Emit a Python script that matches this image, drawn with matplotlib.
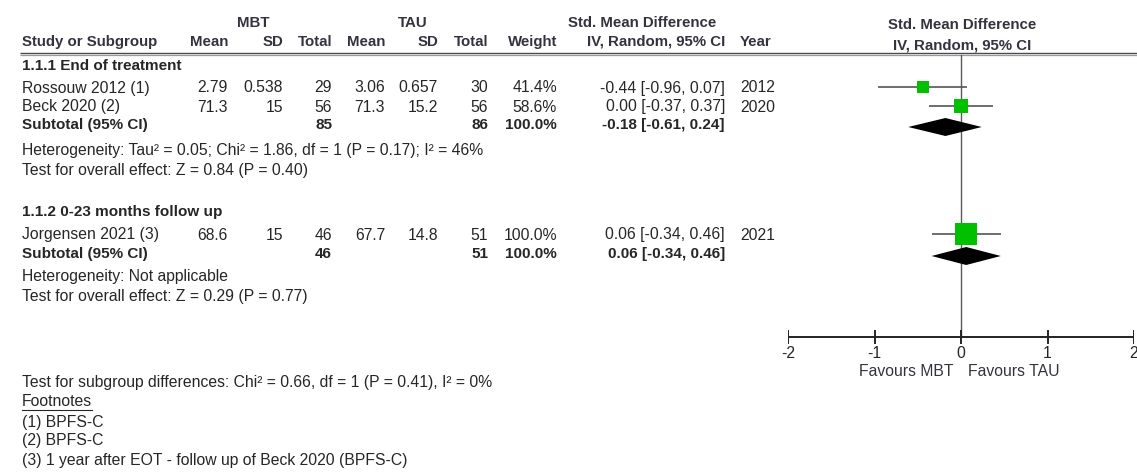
import matplotlib
matplotlib.use("Agg")
import matplotlib.pyplot as plt

# ---------------- data ----------------
groups = ["1.1.1 End of treatment", "1.1.2 0-23 months follow up"]
studies = ["Rossouw 2012 (1)", "Beck 2020 (2)", "Jorgensen 2021 (3)"]
study_group = [0, 0, 1]
mbt_mean = [2.79, 71.3, 68.6]
mbt_sd = [0.538, 15, 15]
mbt_n = [29, 56, 46]
tau_mean = [3.06, 71.3, 67.7]
tau_sd = [0.657, 15.2, 14.8]
tau_n = [30, 56, 51]
weights = [41.4, 58.6, 100.0]
smd = [-0.44, 0.00, 0.06]
smd_lo = [-0.96, -0.37, -0.34]
smd_hi = [0.07, 0.37, 0.46]
years = [2012, 2020, 2021]

sub_mbt_n = [85, 46]
sub_tau_n = [86, 51]
sub_weight = [100.0, 100.0]
sub_est = [-0.18, 0.06]
sub_lo = [-0.61, -0.34]
sub_hi = [0.24, 0.46]
het_text = ["Heterogeneity: Tau\u00b2 = 0.05; Chi\u00b2 = 1.86, df = 1 (P = 0.17); I\u00b2 = 46%",
            "Heterogeneity: Not applicable"]
overall_text = ["Test for overall effect: Z = 0.84 (P = 0.40)",
                "Test for overall effect: Z = 0.29 (P = 0.77)"]
subgroup_diff = "Test for subgroup differences: Chi\u00b2 = 0.66, df = 1 (P = 0.41), I\u00b2 = 0%"
footnotes = ["(1) BPFS-C", "(2) BPFS-C", "(3) 1 year after EOT - follow up of Beck 2020 (BPFS-C)"]
xticks = [-2, -1, 0, 1, 2]
favours = ["Favours MBT", "Favours TAU"]

# ---------------- layout ----------------
W, H = 1137, 476
plt.rcParams['font.family'] = ['Liberation Sans', 'DejaVu Sans']
FS = 11.3       # normal text
FSB = 11.0      # bold body text
FSH = 10.8      # bold headers
TXT = '#262626'
HDR = '#33333f'

fig = plt.figure(figsize=(W / 100, H / 100), dpi=100)
fig.patch.set_facecolor('white')
tax = fig.add_axes([0, 0, 1, 1])
tax.set_xlim(0, W)
tax.set_ylim(H, 0)
tax.axis('off')

fax = fig.add_axes([788 / W, 0, 346 / W, 1])
fax.set_xlim(xticks[0], xticks[-1])
fax.set_ylim(H, 0)
fax.axis('off')
fax.patch.set_alpha(0)


def t(x, y, s, ha='left', bold=False, color=TXT, size=None):
    if size is None:
        size = FSB if bold else FS
    tax.text(x, y, s, ha=ha, va='center', fontsize=size,
             fontweight='bold' if bold else 'normal', color=color)


LEFT = 22
X_MMEAN, X_MSD, X_MN = 228, 283, 332
X_TMEAN, X_TSD, X_TN = 385, 438, 488
X_W, X_CI, X_YEAR = 557, 725, 740

# headers
t(253, 23, "MBT", ha='center', bold=True, color=HDR, size=FSH)
t(413, 23, "TAU", ha='center', bold=True, color=HDR, size=FSH)
t(642, 23, "Std. Mean Difference", ha='center', bold=True, color=HDR, size=FSH)
t(962, 25, "Std. Mean Difference", ha='center', bold=True, color=HDR, size=FSH)
hy = 42
t(LEFT, hy, "Study or Subgroup", bold=True, color=HDR, size=FSH)
for x, s in [(X_MMEAN, "Mean"), (X_MSD, "SD"), (X_MN, "Total"),
             (X_TMEAN, "Mean"), (X_TSD, "SD"), (X_TN, "Total"),
             (X_W, "Weight"), (X_CI, "IV, Random, 95% CI")]:
    t(x, hy, s, ha='right', bold=True, color=HDR, size=FSH)
t(X_YEAR, hy, "Year", bold=True, color=HDR, size=FSH)
t(962, 45, "IV, Random, 95% CI", ha='center', bold=True, color=HDR, size=FSH)

tax.plot([20, W], [52.5, 52.5], color='#4a4a4a', lw=1.0, solid_capstyle='butt')
tax.plot([20, W], [55.0, 55.0], color='#9a9a9a', lw=0.9, solid_capstyle='butt')

# rows
group_title_y = [66, 212]
study_y = [88, 107, 235]
sub_y = [125, 254]
het_y = [151, 277]
over_y = [171, 297]

for g, title in enumerate(groups):
    t(LEFT, group_title_y[g], title, bold=True)

for i, name in enumerate(studies):
    y = study_y[i]
    t(LEFT, y, name)
    t(X_MMEAN, y, f"{mbt_mean[i]:g}", ha='right')
    t(X_MSD, y, f"{mbt_sd[i]:g}", ha='right')
    t(X_MN, y, f"{mbt_n[i]}", ha='right')
    t(X_TMEAN, y, f"{tau_mean[i]:g}", ha='right')
    t(X_TSD, y, f"{tau_sd[i]:g}", ha='right')
    t(X_TN, y, f"{tau_n[i]}", ha='right')
    t(X_W, y, f"{weights[i]:.1f}%", ha='right')
    t(X_CI, y, f"{smd[i]:.2f} [{smd_lo[i]:.2f}, {smd_hi[i]:.2f}]", ha='right')
    t(X_YEAR, y, f"{years[i]}")
    # forest marks
    my = y - 1.5
    fax.plot([smd_lo[i], smd_hi[i]], [my, my], color='#555555', lw=1.2,
             solid_capstyle='butt', zorder=3)
    side_px = 4.8 + 17.4 * weights[i] / 100.0
    fax.plot([smd[i]], [my], marker='s', markersize=side_px * 0.72,
             color='#00c000', markeredgewidth=0, zorder=4)

for g in range(len(groups)):
    y = sub_y[g]
    t(LEFT, y, "Subtotal (95% CI)", bold=True)
    t(X_MN, y, f"{sub_mbt_n[g]}", ha='right', bold=True)
    t(X_TN, y, f"{sub_tau_n[g]}", ha='right', bold=True)
    t(X_W, y, f"{sub_weight[g]:.1f}%", ha='right', bold=True)
    t(X_CI, y, f"{sub_est[g]:.2f} [{sub_lo[g]:.2f}, {sub_hi[g]:.2f}]", ha='right', bold=True)
    t(LEFT, het_y[g], het_text[g])
    t(LEFT, over_y[g], overall_text[g])
    dy = y + 2
    hh = 9
    fax.fill([sub_lo[g], sub_est[g], sub_hi[g], sub_est[g]],
             [dy, dy - hh, dy, dy + hh], color='black', lw=0, zorder=5)

# zero line and axis
AX_Y = 337
fax.plot([0, 0], [55, AX_Y], color='#5a5a5a', lw=1.0, zorder=2)
fax.plot([xticks[0], xticks[-1]], [AX_Y, AX_Y], color='#222222', lw=1.4,
         solid_capstyle='butt', zorder=2)
for v in xticks:
    fax.plot([v, v], [AX_Y - 6, AX_Y + 6], color='#222222', lw=1.4, zorder=2)
    fax.text(v, 354, f"{v}", ha='center', va='center', fontsize=FS, color=TXT)
fax.text(-0.09, 371, favours[0], ha='right', va='center', fontsize=FS, color=HDR)
fax.text(0.08, 371, favours[1], ha='left', va='center', fontsize=FS, color=HDR)

# bottom notes
t(LEFT, 383, subgroup_diff)
t(LEFT, 402, "Footnotes")
tax.plot([22, 92], [409.5, 409.5], color=TXT, lw=0.8)
for k, s in enumerate(footnotes):
    t(LEFT, 422 + 19 * k, s)

fig.savefig("out.png", dpi=100, facecolor='white')
